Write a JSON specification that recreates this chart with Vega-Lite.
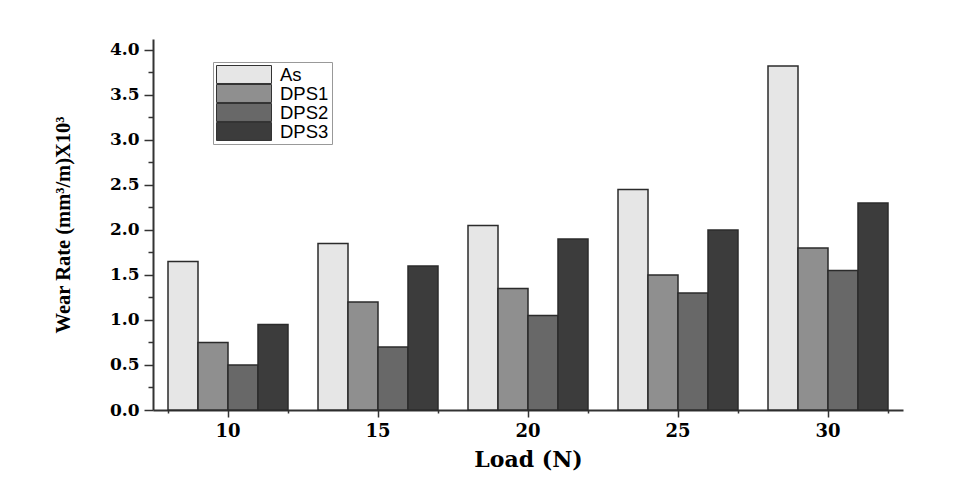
{
  "$schema": "https://vega.github.io/schema/vega-lite/v6.json",
  "autosize": {"type": "none"},
  "padding": {"left": 153, "top": 39, "right": 56, "bottom": 74},
  "width": 750,
  "height": 371,
  "background": "white",
  "config": {"view": {"stroke": null}},
  "data": {
    "values": [
      {"load": 10, "sample": "As", "rate": 1.65},
      {"load": 15, "sample": "As", "rate": 1.85},
      {"load": 20, "sample": "As", "rate": 2.05},
      {"load": 25, "sample": "As", "rate": 2.45},
      {"load": 30, "sample": "As", "rate": 3.82},
      {"load": 10, "sample": "DPS1", "rate": 0.75},
      {"load": 15, "sample": "DPS1", "rate": 1.2},
      {"load": 20, "sample": "DPS1", "rate": 1.35},
      {"load": 25, "sample": "DPS1", "rate": 1.5},
      {"load": 30, "sample": "DPS1", "rate": 1.8},
      {"load": 10, "sample": "DPS2", "rate": 0.5},
      {"load": 15, "sample": "DPS2", "rate": 0.7},
      {"load": 20, "sample": "DPS2", "rate": 1.05},
      {"load": 25, "sample": "DPS2", "rate": 1.3},
      {"load": 30, "sample": "DPS2", "rate": 1.55},
      {"load": 10, "sample": "DPS3", "rate": 0.95},
      {"load": 15, "sample": "DPS3", "rate": 1.6},
      {"load": 20, "sample": "DPS3", "rate": 1.9},
      {"load": 25, "sample": "DPS3", "rate": 2.0},
      {"load": 30, "sample": "DPS3", "rate": 2.3}
    ]
  },
  "resolve": {"axis": {"x": "independent", "y": "independent"}},
  "layer": [
    {
      "mark": {"type": "bar", "stroke": "#2b2b2b", "strokeWidth": 1.5},
      "encoding": {
        "x": {
          "field": "load", "type": "ordinal",
          "scale": {"paddingInner": 0.2, "paddingOuter": 0.1},
          "axis": {
            "orient": "bottom", "labelAngle": 0, "grid": false,
            "labelFont": "DejaVu Serif", "labelFontWeight": "bold", "labelFontSize": 18, "labelColor": "black",
            "labelPadding": 5, "tickSize": 7, "tickColor": "#333", "tickWidth": 1.5,
            "domainColor": "#333", "domainWidth": 2,
            "title": "Load (N)", "titleFont": "DejaVu Serif", "titleFontWeight": "bold", "titleFontSize": 22,
            "titleColor": "black", "titlePadding": 9
          }
        },
        "xOffset": {"field": "sample", "type": "nominal", "scale": {"paddingInner": 0, "paddingOuter": 0}},
        "y": {
          "field": "rate", "type": "quantitative",
          "scale": {"domain": [0, 4.12], "nice": false},
          "axis": {
            "orient": "left", "grid": false,
            "values": [0, 0.5, 1, 1.5, 2, 2.5, 3, 3.5, 4], "format": ".1f",
            "labelFont": "DejaVu Serif", "labelFontWeight": "bold", "labelFontSize": 17, "labelColor": "black",
            "labelPadding": 5, "tickSize": 9, "tickColor": "#333", "tickWidth": 1.5,
            "domainColor": "#333", "domainWidth": 2,
            "title": "Wear Rate (mm³/m)X10³", "titleFont": "Liberation Serif", "titleFontWeight": "bold",
            "titleFontSize": 20.5, "titleColor": "black", "titlePadding": 36
          }
        },
        "fill": {
          "field": "sample", "type": "nominal",
          "scale": {"domain": ["As", "DPS1", "DPS2", "DPS3"], "range": ["#e6e6e6", "#8f8f8f", "#686868", "#3c3c3c"]},
          "legend": {
            "orient": "none", "legendX": 60, "legendY": 23, "title": null,
            "symbolType": "M-1,-0.327H1V0.327H-1Z", "symbolSize": 3025,
            "symbolStrokeColor": "#333", "symbolStrokeWidth": 1, "symbolOpacity": 1,
            "clipHeight": 19,
            "labelFont": "Liberation Sans", "labelFontSize": 18.5, "labelColor": "black",
            "labelOffset": 8, "rowPadding": 0, "padding": 3,
            "strokeColor": "#999", "fillColor": "white"
          }
        }
      }
    },
    {
      "mark": {"type": "bar", "opacity": 0},
      "encoding": {
        "x": {
          "field": "load", "type": "ordinal",
          "axis": {
            "orient": "bottom", "labels": false, "domain": false, "title": null, "grid": false,
            "tickBand": "extent", "tickSize": 3, "tickColor": "#333", "tickWidth": 1.5
          }
        },
        "y": {
          "field": "rate", "type": "quantitative",
          "axis": {
            "orient": "left", "labels": false, "domain": false, "title": null, "grid": false,
            "values": [0.25, 0.75, 1.25, 1.75, 2.25, 2.75, 3.25, 3.75],
            "tickSize": 5, "tickColor": "#333", "tickWidth": 1.5
          }
        }
      }
    }
  ]
}
